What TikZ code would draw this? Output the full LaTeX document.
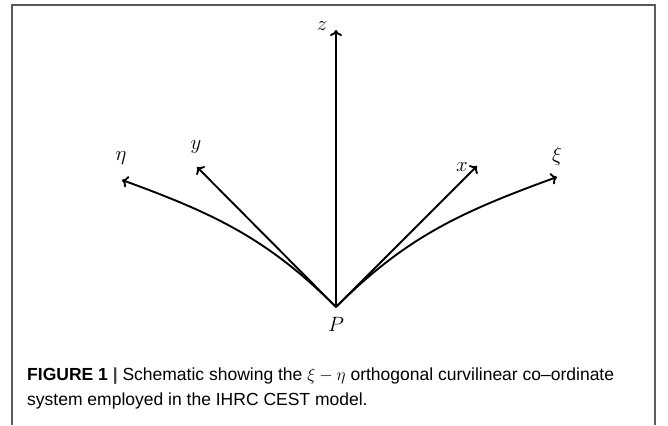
\documentclass[tikz,border=0pt]{standalone}
\usepackage{fontspec}
\setsansfont{Liberation Sans}
\usetikzlibrary{arrows.meta}
\begin{document}
\begin{tikzpicture}[x=1pt,y=-1pt,
  axis/.style={line width=1.9pt,-{To[length=6pt,width=12pt,line width=1.9pt]}},
  lbl/.style={inner sep=0pt,font=\fontsize{20}{24}\selectfont},
  frame/.style={draw=black!65,line width=1.6pt},
  captext/.style={inner sep=0pt,anchor=base west,font=\sffamily\fontsize{17.5}{20}\selectfont}]
\useasboundingbox (0,0) rectangle (668,425);
\draw[frame] (12,425) -- (12,5) -- (655,5) -- (655,425);
\coordinate (P) at (336,307);
\coordinate (zt) at (336,30);
\coordinate (yt) at (197,167);
\coordinate (xt) at (477,166);
\coordinate (et) at (122,180);
\coordinate (kt) at (557,177);
\draw[axis] (P) -- (zt);
\draw[axis] (P) -- (yt);
\draw[axis] (P) -- (xt);
\draw[axis] (P) to[out=135,in=-20] (et);
\draw[axis] (P) to[out=45,in=200] (kt);
\node[lbl] (Pl) at (336,324) {$P$};
\node[lbl] (zl) at (322,26) {$z$};
\node[lbl] (yl) at (196,147) {$y$};
\node[lbl] (xl) at (462,167) {$x$};
\node[lbl] (el) at (121,158) {$\eta$};
\node[lbl] (kl) at (557,156) {$\xi$};
\node[captext] (c1) at (27,380) {\textbf{FIGURE 1} {\color{black!75}\textbf{|}} Schematic showing the $\xi-\eta$ orthogonal curvilinear co--ordinate};
\node[captext] (c2) at (27,405) {system employed in the IHRC CEST model.};
\end{tikzpicture}
\end{document}
